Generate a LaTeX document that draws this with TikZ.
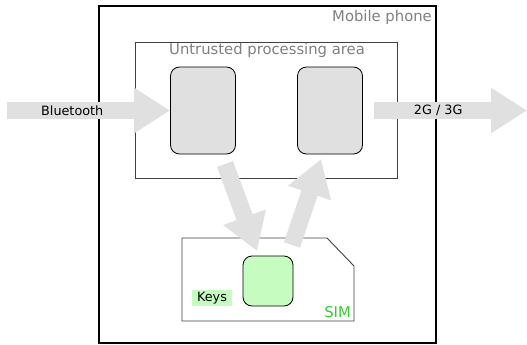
\documentclass[tikz,border=0pt]{standalone}
\usepackage{fontspec}
\setmainfont{DejaVu Sans}
\usetikzlibrary{arrows.meta}
\definecolor{arrowgray}{HTML}{E0E0E0}
\definecolor{boxgray}{HTML}{E0E0E0}
\definecolor{labelgray}{HTML}{808080}
\definecolor{simgreen}{HTML}{C6FCC0}
\definecolor{simtext}{HTML}{33CC33}
\tikzset{
  fatarrow/.style={draw=arrowgray, line width=17pt, -{Triangle[width=43pt,length=36pt]}, arrowgray},
  procbox/.style={draw=black, fill=boxgray, rounded corners=9pt, minimum width=65pt, minimum height=87pt, line width=0.8pt},
  keybox/.style={draw=black, fill=simgreen, rounded corners=9pt, minimum width=50pt, minimum height=50pt, line width=0.8pt},
  arrowlabel/.style={font=\fontsize{12.8}{14}\selectfont, text=black},
  arealabel/.style={font=\fontsize{14.8}{17}\selectfont, text=labelgray},
}
\begin{document}
\begin{tikzpicture}[x=1pt,y=-1pt]
\useasboundingbox (0,0) rectangle (527,345);
% outer phone
\node[draw=black, line width=1.6pt, minimum width=337pt, minimum height=337pt, inner sep=0pt] (phone) at (267.5,174.5) {};
\node[arealabel, anchor=north east, inner sep=0pt] (phonelbl) at (432,10) {Mobile phone};
% untrusted area
\node[draw=black!75, line width=0.9pt, minimum width=262pt, minimum height=136pt, inner sep=0pt] (area) at (266,110) {};
\node[arealabel, anchor=north, inner sep=0pt] (arealbl) at (267,43) {Untrusted processing area};
% processing boxes
\node[procbox] (left) at (203,110.5) {};
\node[procbox] (right) at (330,110.5) {};
% SIM card
\draw[draw=black!75, line width=0.9pt] (182,238) -- (327,238) -- (354,266) -- (354,321) -- (182,321) -- cycle;
\node[keybox] (keys) at (268,281) {};
\node[fill=simgreen, inner sep=0pt, minimum width=40pt, minimum height=16pt, font=\fontsize{12.8}{14}\selectfont] (keyslbl) at (212,298) {Keys};
\node[font=\fontsize{14.8}{17}\selectfont, text=simtext, anchor=south east, inner sep=0pt] (simlbl) at (351,318) {SIM};
% arrows
\coordinate (btstart) at (7,110.5);
\coordinate (gsmend) at (527,110.5);
\coordinate (gsmstart) at (374,110.5);
\coordinate (downstart) at (225,164);
\coordinate (downend) at (257,251);
\coordinate (upstart) at (292,245);
\coordinate (upend) at (321,159);
\draw[fatarrow] (btstart) -- (left.west) node[pos=0.4, arrowlabel] {Bluetooth};
\draw[fatarrow] (gsmstart) -- (gsmend) node[pos=0.42, arrowlabel] {2G / 3G};
\draw[fatarrow] (downstart) -- (downend);
\draw[fatarrow] (upstart) -- (upend);
\end{tikzpicture}
\end{document}
